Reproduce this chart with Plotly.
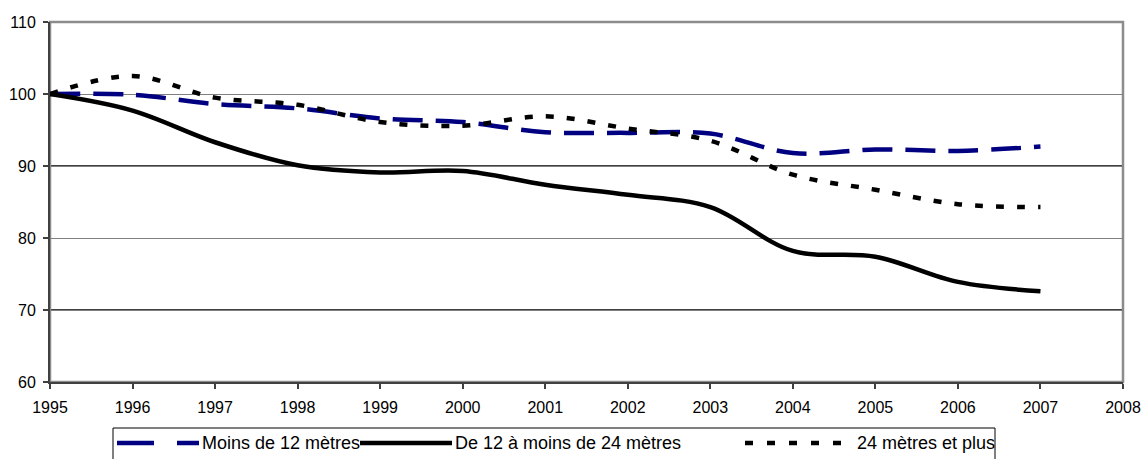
import plotly.graph_objects as go

years = [1995, 1996, 1997, 1998, 1999, 2000, 2001, 2002, 2003, 2004, 2005, 2006, 2007]
moins_12 = [100, 99.9, 98.6, 98.0, 96.6, 96.1, 94.7, 94.6, 94.5, 91.8, 92.3, 92.1, 92.7]
de_12_24 = [100, 97.7, 93.3, 90.1, 89.1, 89.3, 87.4, 86.0, 84.3, 78.2, 77.4, 73.9, 72.6]
plus_24 = [100, 102.5, 99.5, 98.5, 96.1, 95.6, 96.9, 95.2, 93.5, 88.8, 86.7, 84.7, 84.3]
x_ticks = list(range(1995, 2009))
y_ticks = [60, 70, 80, 90, 100, 110]
names = ["Moins de 12 mètres", "De 12 à moins de 24 mètres", "24 mètres et plus"]

W, H = 1144, 459
ML, MR, MT, MB = 50, 21, 22, 77
PW, PH = W - ML - MR, H - MT - MB

def px(x):
    return (x - ML) / PW

def py(y):
    return (H - MB - y) / PH

styles = [
    dict(color="#000080", width=4.5, dash="30px,13px"),
    dict(color="#000000", width=4.5),
    dict(color="#000000", width=4.5, dash="8px,13px"),
]
legend_styles = [
    dict(color="#000080", width=4.5, dash="37px,23px"),
    dict(color="#000000", width=4.5),
    dict(color="#000000", width=4.5, dash="8px,14px"),
]

fig = go.Figure()
for name, vals, st in zip(names, [moins_12, de_12_24, plus_24], styles):
    fig.add_trace(go.Scatter(x=years, y=vals, name=name, mode="lines", showlegend=False,
                             line=dict(shape="spline", smoothing=1.0, **st)))

# darker gridlines at 90 and 70 as in the reference
for yv in (90, 70):
    fig.add_shape(type="line", xref="paper", x0=0, x1=1, yref="y", y0=yv, y1=yv,
                  line=dict(color="#000000", width=1.3), layer="below")
# plot-area frame (top/right in grey)
fig.add_shape(type="rect", xref="paper", yref="paper", x0=0, x1=1, y0=0, y1=1,
              line=dict(color="#8c8c8c", width=2.5), layer="below")

# legend box (Excel-like, with long line samples)
fig.add_shape(type="rect", xref="paper", yref="paper", x0=px(113), x1=px(995), y0=py(470), y1=py(428),
              line=dict(color="#000000", width=1), fillcolor="white")
leg_items = [(117, 199, 200), (360, 452, 453), (745, 848, 855)]
for (x0, x1, xt), name, st in zip(leg_items, names, legend_styles):
    fig.add_shape(type="line", xref="paper", yref="paper", x0=px(x0), x1=px(x1), y0=py(443), y1=py(443),
                  line=st)
    fig.add_annotation(xref="paper", yref="paper", x=px(xt), y=py(443), xanchor="left", yanchor="middle",
                       text=name, showarrow=False, font=dict(size=18, color="black"))

fig.update_layout(
    width=W, height=H,
    margin=dict(l=ML, r=MR, t=MT, b=MB, autoexpand=False),
    paper_bgcolor="white", plot_bgcolor="white",
    font=dict(family="Liberation Sans, Arial, sans-serif", size=15, color="black"),
    showlegend=False,
)
fig.update_xaxes(range=[1995, 2008], tickvals=x_ticks, ticktext=[str(v) for v in x_ticks],
                 showgrid=False, zeroline=False, showline=True, linecolor="#404040", linewidth=2,
                 ticks="outside", ticklen=5, tickwidth=1.5, tickcolor="#404040",
                 tickfont=dict(size=16), ticklabelstandoff=5)
fig.update_yaxes(range=[60, 110], tickvals=y_ticks, showgrid=True, gridcolor="#808080", gridwidth=1,
                 zeroline=False, showline=True, linecolor="#404040", linewidth=2,
                 ticks="outside", ticklen=5, tickwidth=1.5, tickcolor="#404040",
                 tickfont=dict(size=16), ticklabelstandoff=4)

fig.write_html("out.html", config={"displayModeBar": False},
               post_script="document.body.style.margin='0';document.body.style.overflow='hidden';")
